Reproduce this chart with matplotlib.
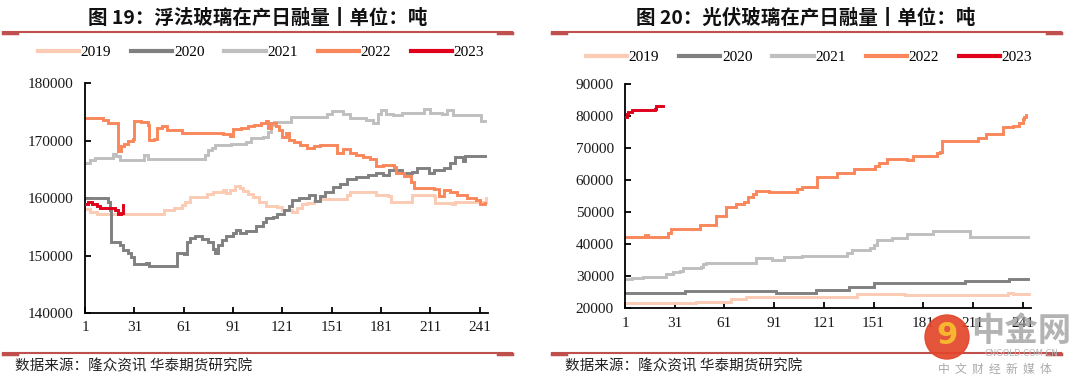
import matplotlib
matplotlib.use("Agg")
import matplotlib.pyplot as plt
from matplotlib.lines import Line2D
from matplotlib.patches import Ellipse

# ---------------- data (breakpoints of step-like daily series) ----------------
years = ["2019", "2020", "2021", "2022", "2023"]
colors = ["#FCCBB3", "#808080", "#BFBFBF", "#FA875C", "#E0001B"]

x_ticks = [1, 31, 61, 91, 121, 151, 181, 211, 241]

# Float glass (left)
float_2019 = [(1,158100),(4,157600),(8,157200),(48,157200),(49,158000),(55,158300),(60,158800),
              (62,159400),(65,160200),(75,160800),(79,161100),(85,161400),(87,160900),(89,161400),
              (92,162100),(95,161800),(97,161300),(100,160800),(103,160200),(107,159400),(111,158700),
              (118,158500),(121,157900),(127,157600),(130,158200),(133,158900),(136,159200),(140,159500),
              (144,159800),(158,159800),(160,160500),(162,161100),(177,161100),(178,160500),(185,160300),
              (187,159400),(199,159400),(200,160500),(213,160400),(214,159100),(224,159000),(226,159300),
              (243,159300),(245,160100)]
float_2020 = [(1,160100),(13,160100),(15,159300),(16,158000),(17,152400),(21,152400),(22,151900),
              (24,151000),(27,150400),(29,149800),(31,148500),(38,148700),(40,148200),(56,148200),
              (57,150400),(61,150200),(63,152400),(65,153000),(68,153400),(72,152800),(76,152300),
              (79,151200),(80,150400),(82,151800),(84,152700),(87,153400),(91,153900),(93,154500),
              (95,153900),(99,154200),(105,155100),(109,155900),(111,156500),(115,156800),(118,157200),
              (122,157900),(125,158600),(127,159700),(131,160100),(137,160500),(141,159500),(144,160300),
              (147,161100),(152,162000),(156,162400),(160,163400),(166,163700),(173,164000),(178,164300),
              (182,164000),(186,164900),(194,164300),(200,164600),(203,165200),(206,165200),(210,164400),
              (213,164900),(219,165200),(223,166100),(226,167200),(230,167200),(231,166400),(232,167300),
              (244,167300)]
float_2021 = [(1,166100),(4,166600),(7,167000),(17,167000),(18,167700),(20,167400),(22,166700),
              (35,166700),(37,167500),(39,166900),(72,166900),(74,167500),(76,168300),(78,168700),
              (80,169300),(90,169400),(99,169700),(102,170400),(109,170700),(112,171500),(114,172800),
              (116,173200),(124,173300),(126,174200),(148,174600),(151,175100),(158,174700),(162,173900),
              (172,173600),(176,173000),(179,174600),(181,175300),(184,174700),(188,174400),(194,174800),
              (207,175600),(211,174900),(218,174700),(221,175400),(225,174400),(241,174400),(242,173400),
              (244,173400)]
float_2022 = [(1,174000),(12,173600),(15,173100),(20,173000),(21,168200),(23,169000),(25,169500),
              (27,170000),(30,170300),(31,173500),(35,173200),(39,172800),(40,170200),(43,170300),
              (45,172200),(48,172500),(51,171900),(60,171400),(85,171200),(89,170800),(91,172000),
              (96,172300),(100,172500),(104,172800),(108,173100),(111,173500),(112,172300),(114,173000),
              (117,172600),(119,171800),(121,170600),(123,171300),(125,170200),(128,169700),(132,169300),
              (136,168700),(140,169000),(144,169200),(153,169200),(154,167800),(158,168600),(162,167800),
              (166,167500),(170,167200),(174,166800),(178,165600),(182,165700),(189,165500),(190,164300),
              (195,163800),(199,162800),(201,161700),(213,161600),(216,160400),(219,161400),(223,161100),
              (227,160500),(233,160000),(239,159700),(241,158900),(244,159100)]
float_2023 = [(1,159000),(3,159400),(5,158900),(8,158700),(10,158200),(17,158200),(19,158000),
              (21,157300),(23,157500),(24,158800)]

# PV glass (right)
pv_2019 = [(1,21600),(44,22100),(65,22800),(74,23500),(141,24400),(170,24200),(232,24900),
           (235,24500),(245,24500)]
pv_2020 = [(1,24900),(37,25500),(92,24900),(116,25700),(136,26700),(151,27800),(206,28600),
           (233,29200),(244,29200)]
pv_2021 = [(1,29300),(5,29500),(12,29800),(25,29800),(26,30800),(30,31400),(34,31700),(36,32600),
           (47,33000),(48,33800),(50,34200),(79,34200),(80,35600),(89,35600),(90,35000),(97,36100),
           (108,36200),(134,36200),(135,37300),(138,38100),(142,38200),(149,38800),(151,39800),
           (153,41300),(161,41300),(162,41800),(170,41900),(171,43200),(186,43200),(187,44200),
           (208,44200),(209,42400),(244,42400)]
pv_2022 = [(1,42400),(12,42400),(13,43000),(15,42400),(27,43500),(29,44700),(45,44700),(46,46000),
           (55,46000),(56,48800),(61,48800),(62,51500),(67,51500),(68,52400),(72,52400),(73,53300),
           (75,54600),(78,55800),(80,56600),(88,56200),(104,56200),(105,57300),(108,57900),(116,57900),
           (117,60900),(128,60900),(129,62100),(138,62100),(139,63400),(151,63400),(152,64400),
           (154,65200),(159,66500),(170,66500),(171,66200),(175,67500),(188,67500),(189,68400),
           (191,68800),(192,72300),(213,72300),(214,73000),(218,73000),(219,74400),(228,74400),
           (229,76700),(235,77000),(239,77700),(241,79000),(242,79600),(243,80300)]
pv_2023 = [(1,79800),(2,80600),(3,81400),(5,82000),(19,82300),(20,83000),(24,83000)]

float_series = [float_2019, float_2020, float_2021, float_2022, float_2023]
pv_series = [pv_2019, pv_2020, pv_2021, pv_2022, pv_2023]

title_left = "图 19：浮法玻璃在产日融量丨单位：吨"
title_right = "图 20：光伏玻璃在产日融量丨单位：吨"
source_text = "数据来源：隆众资讯 华泰期货研究院"

# ---------------- drawing ----------------
W, H = 1080, 386
fig = plt.figure(figsize=(W / 100, H / 100), dpi=100)
cjk = ["Noto Sans CJK SC", "DejaVu Sans"]
serif = "Liberation Serif"
line_red = "#C0504D"


def px_rect(l, r, top, bottom):
    return [l / W, 1 - bottom / H, (r - l) / W, (bottom - top) / H]


def draw_panel(rect, series, ylim, yticks, xlim):
    ax = fig.add_axes(rect)
    for s, c, lab in zip(series, colors, years):
        xs = [p[0] for p in s]
        ys = [p[1] for p in s]
        ax.plot(xs, ys, drawstyle="steps-post", color=c, lw=2.1, label=lab,
                solid_joinstyle="miter", zorder=3 if lab == "2023" else 2)
    ax.set_xlim(*xlim)
    ax.set_ylim(*ylim)
    ax.set_xticks(x_ticks)
    ax.set_yticks(yticks)
    for sp in ["top", "right"]:
        ax.spines[sp].set_visible(False)
    for sp in ["left", "bottom"]:
        ax.spines[sp].set_linewidth(1.3)
        ax.spines[sp].set_color("black")
    ax.tick_params(direction="in", length=4, width=1.3, color="black",
                   labelsize=11, labelcolor="#1a1a1a", pad=6)
    ax.tick_params(axis="y", pad=8)
    for lbl in ax.get_xticklabels() + ax.get_yticklabels():
        lbl.set_fontfamily(serif)
    return ax


axL = draw_panel(px_rect(85, 488, 83.3, 313), float_series, (140000, 180000),
                 list(range(140000, 180001, 10000)), (1, 246))
axR = draw_panel(px_rect(625, 1031, 84, 308.3), pv_series, (20000, 90000),
                 list(range(20000, 90001, 10000)), (1, 246))

# legends
for ax, cx, cy in [(axL, 261, 52), (axR, 809, 57)]:
    leg = fig.legend(handles=ax.get_lines(), labels=years, loc="center",
                     bbox_to_anchor=(cx / W, 1 - cy / H), ncol=5, frameon=False,
                     prop={"family": serif, "size": 11}, handlelength=2.7,
                     handletextpad=0.1, columnspacing=1.3, borderaxespad=0)
    for h in leg.legend_handles:
        h.set_linewidth(3)

# titles
fig.text(258 / W, 1 - 18 / H, title_left, ha="center", va="center",
         fontsize=14, fontweight="bold", family=cjk, color="#111111")
fig.text(806 / W, 1 - 18 / H, title_right, ha="center", va="center",
         fontsize=14, fontweight="bold", family=cjk, color="#111111")

# separator lines
def hline(x0, x1, y, lw):
    fig.add_artist(Line2D([x0 / W, x1 / W], [1 - y / H, 1 - y / H],
                          transform=fig.transFigure, color=line_red, lw=lw))

for x0, x1 in [(3, 512), (552, 1061)]:
    hline(x0, x1, 32, 1.5)
    hline(x0, x0 + 14, 32.5, 2.5)
    hline(x1 - 14, x1, 32.5, 2.5)
    hline(x0, x1, 353, 1.5)
    hline(x0, x0 + 14, 353.5, 2.5)
    hline(x1 - 14, x1, 353.5, 2.5)

# sources
fig.text(15 / W, 1 - 366 / H, source_text, ha="left", va="center",
         fontsize=10.5, family=cjk, color="#222222")
fig.text(565 / W, 1 - 366 / H, source_text, ha="left", va="center",
         fontsize=10.5, family=cjk, color="#222222")

# watermark (logo + brand text, as in the reference)
logo = Ellipse((947 / W, 1 - 337 / H), 44 / W, 44 / H, transform=fig.transFigure,
               color="#E2462B", alpha=0.92, zorder=5)
fig.add_artist(logo)
fig.text(947 / W, 1 - 336 / H, "9", ha="center", va="center", fontsize=22,
         fontweight="bold", color="#F6B72E", zorder=6, family="DejaVu Sans")
fig.text(1021 / W, 1 - 332 / H, "中金网", ha="center", va="center", fontsize=24,
         fontweight="bold", family=cjk, color="#9A9A9A", alpha=0.75, zorder=6)
fig.text(1021 / W, 1 - 354 / H, "CNGOLD.COM.CN", ha="center", va="center", fontsize=6,
         family="DejaVu Sans", color="#B5B5B5", zorder=6)
fig.text(995 / W, 1 - 369 / H, "中  文  财  经  新  媒  体", ha="center", va="center",
         fontsize=8.5, family=cjk, color="#AAAAAA", zorder=6)

fig.savefig("out.png", dpi=100)
